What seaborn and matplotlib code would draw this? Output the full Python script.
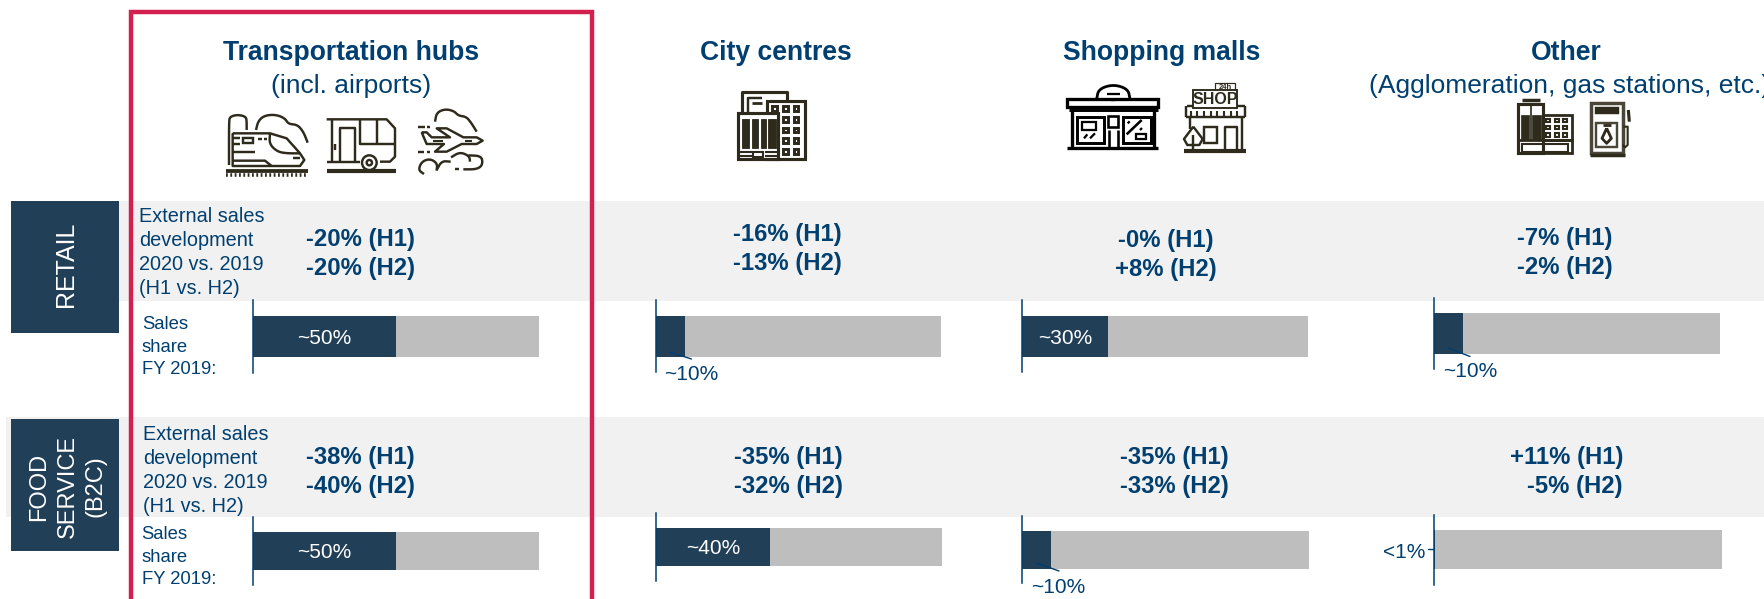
import numpy as np
import pandas as pd
import seaborn as sns
import matplotlib
matplotlib.use("Agg")
import matplotlib.pyplot as plt
from matplotlib.patches import Rectangle, Circle

sns.set_theme(style="white")
plt.rcParams['font.family'] = ['Liberation Sans', 'DejaVu Sans']

# data
venues = ["Transportation hubs", "City centres", "Shopping malls", "Other"]
venue_notes = ["(incl. airports)", "", "", "(Agglomeration, gas stations, etc.)"]
retail_h1 = ["-20% (H1)", "-16% (H1)", "-0% (H1)", "-7% (H1)"]
retail_h2 = ["-20% (H2)", "-13% (H2)", "+8% (H2)", "-2% (H2)"]
food_h1 = ["-38% (H1)", "-35% (H1)", "-35% (H1)", "+11% (H1)"]
food_h2 = ["-40% (H2)", "-32% (H2)", "-33% (H2)", "-5% (H2)"]
retail_share = [50, 10, 30, 10]
food_share = [50, 40, 10, 0.5]
retail_share_text = ["~50%", "~10%", "~30%", "~10%"]
food_share_text = ["~50%", "~40%", "~10%", "<1%"]
total = 100

W, H = 1764, 599
NAVY = "#223f58"
GREY = "#bebebe"
BAND = "#f1f1f1"
BLUE = "#003f6f"
RED = "#d2214e"
ICON = "#2e2a1c"

fig = plt.figure(figsize=(W / 100, H / 100), dpi=100, facecolor="white")

# background layer in pixels
bg = fig.add_axes([0, 0, 1, 1], zorder=0)
bg.set_xlim(0, W)
bg.set_ylim(H, 0)
bg.axis("off")
bg.add_patch(Rectangle((118, 201), W - 118, 100, color=BAND, lw=0))
bg.add_patch(Rectangle((6, 417), W - 6, 100, color=BAND, lw=0))
bg.add_patch(Rectangle((11, 201), 107.5, 132, color=NAVY, lw=0))
bg.add_patch(Rectangle((11, 419), 107.5, 132, color=NAVY, lw=0))

# axis x, gray end, bar top, bar bottom, axis top, axis bottom
retail_boxes = [(253, 539, 316, 357, 300, 373), (656, 941, 316, 357, 300, 372),
                (1022, 1308, 316, 357, 300, 372), (1434, 1720, 313, 354, 298, 369)]
food_boxes = [(253, 539, 532, 570, 517, 585), (656, 942, 528, 566, 513, 581),
              (1022, 1309, 531, 569, 516, 583), (1434, 1722, 530, 569, 515, 585)]


def share_bar(box, share, label, inside):
    x0, x1, top, bot, atop, abot = box
    ax = fig.add_axes([x0 / W, 1 - abot / H, (x1 - x0) / W, (abot - atop) / H], zorder=1)
    ax.patch.set_alpha(0)
    df = pd.DataFrame({"value": [total], "share": [share], "row": [0]})
    sns.barplot(data=df, x="value", y="row", orient="h", color=GREY, width=1, saturation=1,
                linewidth=0, edgecolor="none", ax=ax)
    sns.barplot(data=df, x="share", y="row", orient="h", color=NAVY, width=1, saturation=1,
                linewidth=0, edgecolor="none", ax=ax)
    mid = (top + bot) / 2
    ax.set_ylim((abot - mid) / (bot - top), (atop - mid) / (bot - top))
    ax.set_xlim(0, total)
    ax.set(xlabel="", ylabel="", xticks=[], yticks=[])
    sns.despine(ax=ax, top=True, right=True, bottom=True)
    ax.spines["left"].set_color(BLUE)
    ax.spines["left"].set_linewidth(1.1)
    if inside:
        ax.text(share / 2, 0.05, label, color="white", fontsize=15, ha="center", va="center")


for i in range(4):
    share_bar(retail_boxes[i], retail_share[i], retail_share_text[i], retail_share[i] > 10)
    share_bar(food_boxes[i], food_share[i], food_share_text[i], 10 < food_share[i])

# top layer in pixels
ov = fig.add_axes([0, 0, 1, 1], zorder=2)
ov.patch.set_alpha(0)
ov.set_xlim(0, W)
ov.set_ylim(H, 0)
ov.axis("off")
ov.plot([130.5, 130.5, 591.5, 591.5], [H + 5, 12, 12, H + 5], color=RED, lw=3.2, solid_joinstyle="miter")


def txt(x, y, s, size=14, bold=False, color=BLUE, ha="center", **kw):
    ov.text(x, y + 1.5, s, fontsize=size, color=color, ha=ha, va="center",
            fontweight="bold" if bold else "normal", **kw)


title_x = [351, 776, 1162, 1566]
for x, name in zip(title_x, venues):
    txt(x, 52, name, 19.1, True)
txt(351, 84, venue_notes[0], 19)
txt(1369, 84, venue_notes[3], 19, ha="left", clip_on=True)

retail_x = [360.5, 787, 1166, 1565]
retail_y = [(238, 267), (233, 262), (239, 268), (237, 266)]
for x, (y1, y2), a, b in zip(retail_x, retail_y, retail_h1, retail_h2):
    txt(x, y1, a, 17.2, True)
    txt(x, y2, b, 17.2, True)
food_x = [360.5, 788.5, 1174]
for x, a, b in zip(food_x, food_h1, food_h2):
    txt(x, 456, a, 17.2, True)
    txt(x, 485, b, 17.2, True)
txt(1623, 456, food_h1[3], 17.2, True, ha="right")
txt(1623, 485, food_h2[3], 17.2, True, ha="right")

for y, s in zip([215, 239, 263, 287], ["External sales", "development", "2020 vs. 2019", "(H1 vs. H2)"]):
    txt(139, y, s, 14.3, ha="left")
for y, s in zip([433, 457, 481, 505], ["External sales", "development", "2020 vs. 2019", "(H1 vs. H2)"]):
    txt(143, y, s, 14.3, ha="left")
for y, s in zip([323, 346, 368], ["Sales", "share", "FY 2019:"]):
    txt(142, y, s, 13.3, ha="left")
for y, s in zip([533, 556, 578], ["Sales", "share", "FY 2019:"]):
    txt(141.5, y, s, 13.3, ha="left")

txt(66, 263, "RETAIL", 18, color="white", rotation=90)
txt(39, 485, "FOOD", 17, color="white", rotation=90)
txt(68, 485, "SERVICE", 17, color="white", rotation=90)
txt(96, 485, "(B2C)", 17, color="white", rotation=90)

# labels outside the small segments
txt(691.5, 373, retail_share_text[1], 15)
txt(1470, 370, retail_share_text[3], 15)
txt(1058.5, 586, food_share_text[2], 15)
txt(1425, 551, food_share_text[3], 15, ha="right")
ov.plot([669.5, 691.5], [352, 359], color=BLUE, lw=1)
ov.plot([1448, 1470], [348, 356.5], color=BLUE, lw=1)
ov.plot([1036.5, 1059], [563, 571], color=BLUE, lw=1)
ov.plot([1428, 1434], [549, 549], color=BLUE, lw=1)

LW = 1.25


# icons, points are given in the crop coords (3x) with an origin
def chaikin(p, n=3):
    p = np.array(p, float)
    for _ in range(n):
        q = [p[0]]
        for a, b in zip(p[:-1], p[1:]):
            q += [0.75 * a + 0.25 * b, 0.25 * a + 0.75 * b]
        q.append(p[-1])
        p = np.array(q)
    return p


def ln(o, pts, lw=1.4, c=ICON, smooth=False):
    p = chaikin(pts) if smooth else np.array(pts, float)
    ov.plot(o[0] + p[:, 0] / 3, o[1] + p[:, 1] / 3, color=c, lw=lw * LW,
            solid_capstyle="butt", solid_joinstyle="round")


def rect(o, x0, y0, x1, y1, lw=1.4, c=ICON, fill="none"):
    ov.add_patch(Rectangle((o[0] + x0 / 3, o[1] + y0 / 3), (x1 - x0) / 3, (y1 - y0) / 3,
                           ec=c, fc=fill, lw=lw * LW))


def disc(o, x, y, r, lw=1.4, c=ICON, fill="white"):
    ov.add_patch(Circle((o[0] + x / 3, o[1] + y / 3), r / 3, ec=c, fc=fill, lw=lw * LW, zorder=3))


# train
o = (220, 100)
ln(o, [(18, 212), (265, 212)], 2.2)
ov.plot([226, 308], [174.5, 174.5], color=ICON, lw=2.6, ls=(0, (0.5, 0.7)))
ln(o, [(27, 195), (27, 65), (30, 50), (53, 44), (78, 50), (80, 65), (80, 90)], smooth=True)
ln(o, [(108, 90), (115, 62), (135, 46), (168, 44), (195, 55), (205, 72), (232, 74), (250, 95), (263, 128)], smooth=True)
ln(o, [(38, 100), (150, 100), (200, 115), (240, 160), (253, 180), (240, 198), (38, 198), (38, 100)], smooth=False)
ln(o, [(150, 100), (148, 132), (172, 155), (200, 160), (240, 160)], smooth=True)
ln(o, [(38, 115), (60, 115)])
rect(o, 68, 115, 100, 130)
ln(o, [(38, 132), (60, 132)])
ln(o, [(115, 117), (125, 117)])
ln(o, [(132, 117), (141, 117)])
ln(o, [(38, 157), (105, 157)])
ln(o, [(38, 182), (135, 182), (155, 198)])
ln(o, [(218, 175), (240, 175)])

# caravan
ln(o, [(320, 58), (500, 58), (525, 85), (525, 170), (510, 185), (480, 185)])
ln(o, [(335, 58), (335, 185)])
ln(o, [(320, 185), (420, 185)])
ln(o, [(360, 185), (360, 85), (405, 85), (405, 185)])
ln(o, [(345, 133), (345, 150)])
ln(o, [(420, 58), (420, 132), (525, 132)])
ln(o, [(470, 58), (470, 132)])
disc(o, 448, 188, 22)
disc(o, 448, 188, 8)
ln(o, [(320, 213), (527, 213)], 2.4)

# plane
ln(o, [(645, 65), (650, 38), (675, 27), (702, 33), (715, 47), (738, 50), (752, 66), (770, 95)], smooth=True)
ln(o, [(595, 80), (615, 80)])
ln(o, [(622, 80), (630, 80)])
ln(o, [(595, 155), (613, 155)])
ln(o, [(622, 155), (630, 155)])
ln(o, [(605, 97), (620, 97), (635, 112), (690, 112), (650, 85), (680, 85), (730, 112), (770, 112),
       (788, 122), (770, 132), (725, 132), (680, 155), (645, 155), (672, 132), (620, 132), (605, 97)])
ln(o, [(640, 122), (670, 122)], 1.2)
ln(o, [(735, 122), (755, 122)], 1.2)
ln(o, [(612, 222), (595, 210), (605, 185), (630, 176), (652, 190), (650, 212)], smooth=True)
ln(o, [(650, 210), (665, 183), (692, 185)], smooth=True)
ln(o, [(693, 172), (720, 156), (748, 168), (750, 185)], smooth=True)
ln(o, [(745, 166), (785, 168), (788, 195), (770, 208), (730, 208)], smooth=True)
ln(o, [(705, 208), (718, 208)])

# city building
o = (725, 80)
ln(o, [(52, 100), (52, 35), (185, 35), (185, 60)], 1.8)
ln(o, [(68, 95), (68, 55), (110, 55)], 1.4)
ln(o, [(80, 68), (112, 68)], 1.6)
rect(o, 125, 62, 240, 238, 1.8, fill="white")
for wy in [85, 118, 150, 182, 214]:
    for wx in [148, 181, 213]:
        if wx == 148 and wy != 85:
            continue
        rect(o, wx - 7, wy - 7, wx + 7, wy + 7, 1.7, fill="white")
rect(o, 40, 100, 160, 238, 1.8, fill="white")
for a, b in [(50, 72), (82, 100), (108, 122), (130, 152)]:
    rect(o, a, 118, b, 205, 0.5, fill=ICON)
for yy in [215, 228]:
    ln(o, [(45, yy), (80, yy)], 1.2)
    ln(o, [(120, yy), (155, yy)], 1.2)
rect(o, 85, 215, 115, 232, 1.2)

# two shops
o = (1060, 75)
K = "black"
rect(o, 22, 72, 295, 95, 1.9, K)
ln(o, [(110, 72), (116, 42), (160, 28), (204, 42), (210, 72)], 1.6, K, smooth=True)
ln(o, [(140, 58), (180, 58)], 1.3, K)
ln(o, [(152, 74), (166, 74)], 1.3, K)
ln(o, [(28, 105), (295, 105)], 1.7, K)
ln(o, [(37, 105), (37, 215)], 1.9, K)
ln(o, [(283, 105), (283, 215)], 1.9, K)
ln(o, [(22, 218), (295, 218)], 1.9, K)
rect(o, 50, 125, 132, 205, 1.7, K)
rect(o, 65, 140, 108, 165, 1.3, K)
ln(o, [(72, 190), (82, 178)], 1.3, K)
ln(o, [(90, 190), (105, 175)], 1.3, K)
rect(o, 145, 122, 175, 155, 1.5, K)
ln(o, [(147, 165), (147, 215)], 1.5, K)
ln(o, [(175, 165), (175, 215)], 1.5, K)
rect(o, 188, 125, 272, 205, 1.7, K)
ln(o, [(200, 178), (245, 135)], 1.5, K)
ln(o, [(203, 145), (209, 139)], 1.3, K)
ln(o, [(240, 165), (246, 159)], 1.3, K)
rect(o, 228, 178, 258, 193, 1.3, K)

rect(o, 466, 25, 525, 48, 0.7)
ov.text(o[0] + 495 / 3, o[1] + 37 / 3, "24h", fontsize=5.5, fontweight="bold", color=ICON, ha="center", va="center")
rect(o, 400, 45, 530, 100, 1.1, fill="white")
ov.text(o[0] + 465 / 3, o[1] + 73 / 3, "SHOP", fontsize=11.5, fontweight="bold", color=ICON, ha="center", va="center",
        family=["Liberation Sans Narrow", "Liberation Sans"])
ln(o, [(380, 92), (400, 92)])
ln(o, [(530, 92), (555, 92)])
ln(o, [(379, 92), (379, 125)])
ln(o, [(554, 92), (554, 125)])
ln(o, [(379, 127), (554, 127)])
for sx in np.arange(392, 550, 20):
    ln(o, [(sx, 108), (sx, 125)], 1.2)
ln(o, [(390, 130), (390, 162)])
ln(o, [(545, 130), (545, 222)])
rect(o, 432, 155, 470, 205)
ln(o, [(495, 222), (495, 155), (530, 155), (530, 222)])
ln(o, [(400, 155), (372, 192), (382, 210), (418, 210), (428, 192), (400, 155)])
ln(o, [(400, 180), (400, 226)])
ln(o, [(372, 228), (557, 228)], 2.4)

# gas station group
o = (1510, 90)
rect(o, 25, 42, 98, 190, 1.8)
ln(o, [(35, 30), (90, 30)], 2)
rect(o, 32, 75, 56, 148, 0.4, fill=ICON)
rect(o, 66, 75, 92, 148, 0.4, fill=ICON)
rect(o, 60, 40, 62, 150, 0.4, fill=ICON)
rect(o, 100, 75, 185, 150, 1.6)
for wy in [92, 112, 135]:
    for wx in [115, 140, 165]:
        rect(o, wx - 6, wy - 5, wx + 6, wy + 5, 1.2)
rect(o, 25, 150, 185, 190, 1.6)
rect(o, 36, 163, 175, 185, 1.2)
rect(o, 243, 40, 338, 190, 2, "#4a4638")
rect(o, 258, 55, 325, 70, 1.4, fill=ICON)
rect(o, 258, 100, 322, 172, 1.4, "#4a4638", fill="white")
ln(o, [(290, 115), (276, 145), (290, 160), (304, 145), (290, 115)], 1.6)
ln(o, [(280, 105), (303, 105)], 1.6)
ln(o, [(240, 194), (345, 194)], 2)
ln(o, [(340, 110), (353, 110), (353, 165), (345, 172), (338, 165)], 1.2)
ln(o, [(355, 60), (358, 95)], 1.8)

fig.savefig("out.png", dpi=100)
